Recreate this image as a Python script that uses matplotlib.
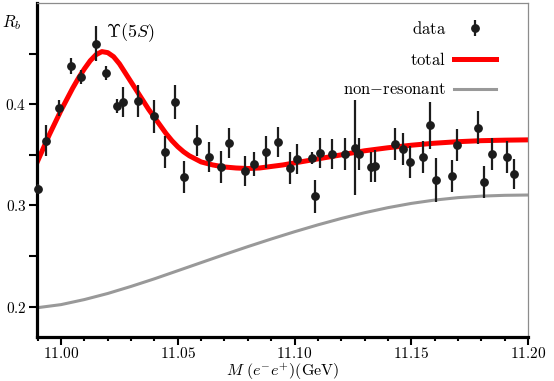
import matplotlib

matplotlib.use("Agg")
import matplotlib.pyplot as plt
from matplotlib.ticker import FixedLocator, FormatStrFormatter, MultipleLocator

# measured points
mass = [10.9900, 10.9936, 10.9991, 11.0043, 11.0086, 11.0150, 11.0193, 11.0240,
        11.0266, 11.0330, 11.0398, 11.0445, 11.0488, 11.0527, 11.0582, 11.0634,
        11.0685, 11.0719, 11.0788, 11.0827, 11.0878, 11.0929, 11.0981, 11.1011,
        11.1075, 11.1088, 11.1109, 11.1161, 11.1216, 11.1259, 11.1276, 11.1328,
        11.1345, 11.1430, 11.1465, 11.1495, 11.1550, 11.1580, 11.1606, 11.1675,
        11.1696, 11.1786, 11.1812, 11.1846, 11.1910, 11.1940]
rb = [0.316, 0.364, 0.396, 0.438, 0.427, 0.460, 0.431, 0.398,
      0.402, 0.403, 0.388, 0.353, 0.402, 0.328, 0.364, 0.348,
      0.338, 0.362, 0.334, 0.341, 0.353, 0.363, 0.337, 0.346,
      0.347, 0.309, 0.352, 0.351, 0.351, 0.357, 0.351, 0.338,
      0.339, 0.361, 0.356, 0.343, 0.348, 0.379, 0.325, 0.329,
      0.360, 0.377, 0.323, 0.351, 0.348, 0.331]
rb_err = [0.005, 0.015, 0.008, 0.008, 0.007, 0.017, 0.007, 0.007,
          0.015, 0.016, 0.016, 0.016, 0.017, 0.016, 0.015, 0.015,
          0.016, 0.015, 0.015, 0.012, 0.016, 0.015, 0.016, 0.015,
          0.006, 0.016, 0.015, 0.015, 0.016, 0.047, 0.016, 0.015,
          0.016, 0.016, 0.016, 0.016, 0.016, 0.023, 0.022, 0.016,
          0.016, 0.016, 0.016, 0.016, 0.016, 0.015]

# fit curves
total_m = [10.9900, 10.9925, 10.9950, 10.9975, 11.0000, 11.0025, 11.0050, 11.0075,
           11.0100, 11.0125, 11.0150, 11.0175, 11.0200, 11.0225, 11.0250, 11.0275,
           11.0300, 11.0325, 11.0350, 11.0375, 11.0400, 11.0425, 11.0450, 11.0475,
           11.0500, 11.0525, 11.0550, 11.0575, 11.0600, 11.0650, 11.0700, 11.0750,
           11.0800, 11.0850, 11.0900, 11.0950, 11.1000, 11.1100, 11.1200, 11.1300,
           11.1400, 11.1500, 11.1600, 11.1700, 11.1800, 11.1900, 11.2000]
total_rb = [0.344, 0.357, 0.370, 0.382, 0.394, 0.405, 0.416, 0.426,
            0.435, 0.443, 0.449, 0.452, 0.451, 0.447, 0.440, 0.431,
            0.422, 0.413, 0.404, 0.395, 0.387, 0.379, 0.371, 0.364,
            0.358, 0.353, 0.349, 0.346, 0.343, 0.340, 0.338, 0.337,
            0.3365, 0.337, 0.3385, 0.340, 0.342, 0.346, 0.350, 0.354,
            0.357, 0.3595, 0.3615, 0.363, 0.364, 0.3645, 0.3648]
bkg_m = [10.990, 11.00, 11.01, 11.02, 11.03, 11.04, 11.05, 11.06, 11.07, 11.08,
         11.09, 11.10, 11.11, 11.12, 11.13, 11.14, 11.15, 11.16, 11.17, 11.18,
         11.19, 11.20]
bkg_rb = [0.199, 0.202, 0.207, 0.213, 0.220, 0.2275, 0.2355, 0.2435, 0.2515, 0.2593,
          0.2668, 0.2740, 0.2808, 0.2871, 0.2928, 0.2978, 0.3020, 0.3053, 0.3077,
          0.3092, 0.3100, 0.3103]


def main() -> None:
    plt.rcParams.update(
        {
            "mathtext.fontset": "cm",
            "font.family": "serif",
            "font.serif": ["cmr10", "DejaVu Serif"],
            "axes.unicode_minus": False,
        }
    )

    fig = plt.figure(figsize=(5.54, 3.81), dpi=100)
    ax = fig.add_axes([0.0668, 0.1155, 0.8862, 0.8765])

    ax.plot(total_m, total_rb, color="#ff0000", linewidth=3.6, label=r"$\mathrm{total}$",
            solid_joinstyle="round", zorder=2)
    ax.plot(bkg_m, bkg_rb, color="#999999", linewidth=2.2,
            label=r"$\mathrm{non{-}resonant}$", solid_joinstyle="round", zorder=2)
    ax.errorbar(mass, rb, yerr=rb_err, fmt="o", color="#1c1c1c", markersize=5.3,
                elinewidth=1.6, capsize=0, label=r"$\mathrm{data}$", zorder=3,
                clip_on=False)

    ax.set_xlim(10.9897, 11.20)
    ax.set_ylim(0.17, 0.50)
    ax.xaxis.set_major_locator(MultipleLocator(0.05))
    ax.xaxis.set_minor_locator(MultipleLocator(0.01))
    ax.yaxis.set_major_locator(FixedLocator([0.2, 0.3, 0.4]))
    ax.yaxis.set_minor_locator(FixedLocator([0.25, 0.35, 0.45]))
    ax.xaxis.set_major_formatter(FormatStrFormatter(r"$%.2f$"))
    ax.yaxis.set_major_formatter(FormatStrFormatter(r"$%.1f$"))
    ax.tick_params(which="both", direction="out", width=1.5, labelsize=11, pad=2)
    ax.tick_params(axis="x", pad=1)
    ax.tick_params(which="major", length=5.5)
    ax.tick_params(which="minor", length=3)
    ax.tick_params(axis="y", which="both", length=5.5)

    for side in ("left", "bottom"):
        ax.spines[side].set_linewidth(2.3)
        ax.spines[side].set_color("black")
    for side in ("top", "right"):
        ax.spines[side].set_linewidth(0.9)
        ax.spines[side].set_color("#8c8c8c")

    ax.text(0.5, -0.103, r"$M\ (e^{-}e^{+})(\mathrm{GeV})$", transform=ax.transAxes,
            ha="center", va="center", fontsize=11.5)
    ax.text(-0.031, 0.943, r"$R_b$", transform=ax.transAxes, ha="right",
            va="center", fontsize=12)
    ax.text(0.19, 0.91, r"$\Upsilon(5S)$", transform=ax.transAxes, ha="center",
            va="center", fontsize=13)

    handles, labels = ax.get_legend_handles_labels()
    order = [2, 0, 1]
    ax.legend([handles[i] for i in order], [labels[i] for i in order],
              loc="upper right", bbox_to_anchor=(0.935, 0.95), frameon=False,
              markerfirst=False, fontsize=12, borderpad=0, borderaxespad=0,
              handlelength=2.5, labelspacing=0.85, handletextpad=0.5)

    fig.savefig("out.png", dpi=100)
    plt.close(fig)


if __name__ == "__main__":
    main()
